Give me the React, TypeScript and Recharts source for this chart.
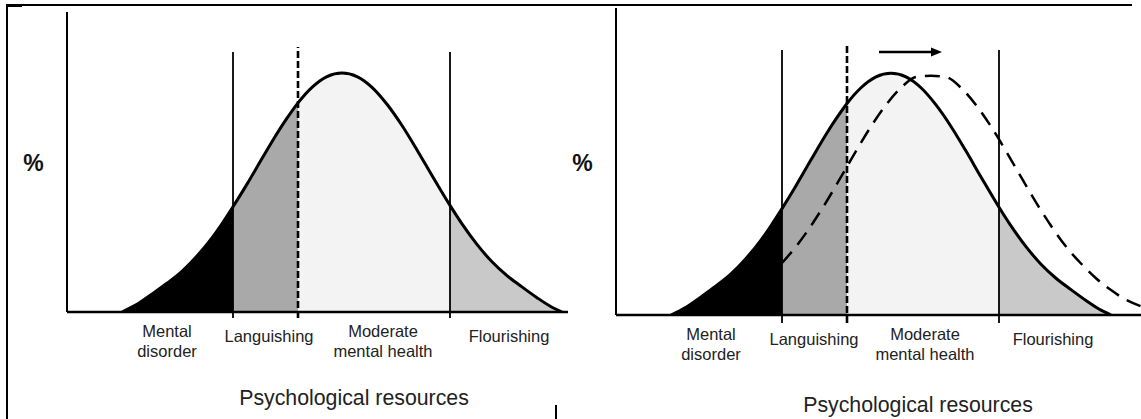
// @ts-nocheck
import { ComposedChart, Area, Line, XAxis, YAxis, ReferenceLine } from 'recharts';

// x in pixels from the y axis (psychological resources), y in % of the peak
const X = [55, 70, 85, 100, 115, 130, 145, 155, 166, 180, 195, 210, 220, 231, 245, 260, 275, 290, 305, 320, 335, 350, 365, 383, 395, 410, 425, 440, 455, 470, 485, 495];
const SOLID = [0, 3.2, 7.5, 12, 17, 23.4, 31, 36.9, 44, 53.5, 64.2, 74.7, 81.1, 87.5, 94, 98.5, 100, 98.5, 94, 86.9, 78, 67.8, 57.1, 44.6, 36.9, 28.3, 21, 15.2, 10.5, 6, 2, 0];

// shifted distribution (right panel, dashed)
const X_SHIFT = [166, 180, 195, 210, 225, 240, 255, 270, 285, 300, 315, 330, 345, 360, 375, 390, 405, 420, 435, 450, 465, 480, 495, 510, 525];
const SHIFTED = [21.5, 28.3, 36.9, 46.6, 57.1, 67.8, 78, 86.9, 94, 98.5, 99, 98.4, 94, 86.9, 78, 67.8, 57.1, 46.6, 36.9, 28.3, 21.3, 15.2, 10.3, 6.3, 3.6];

// cut points: languishing | threshold (dashed) | flourishing
const CUTS = [166, 231, 383];
const REGION_LABELS = ['Mental\ndisorder', 'Languishing', 'Moderate\nmental health', 'Flourishing'];
const AXIS_TITLE = 'Psychological resources';

const FILLS = ['#000000', '#a9a9a9', '#f3f3f3', '#c9c9c9'];
const FONT = '"Liberation Sans", Arial, Helvetica, sans-serif';

const [c1, c2, c3] = CUTS;
const rows = X.map((x, i) => ({
  x,
  y: SOLID[i],
  s1: x <= c1 ? SOLID[i] : null,
  s2: x >= c1 && x <= c2 ? SOLID[i] : null,
  s3: x >= c2 && x <= c3 ? SOLID[i] : null,
  s4: x >= c3 ? SOLID[i] : null,
}));
const shiftedRows = X_SHIFT.map((x, i) => ({ x, v: SHIFTED[i] }));

function RegionTick({ x, y, payload, at }) {
  const idx = at.indexOf(payload.value);
  const lines = (REGION_LABELS[idx] || '').split('\n');
  const offs = lines.length > 1 ? [19, 39] : [24];
  return (
    <g>
      {lines.map((t, i) => (
        <text key={i} x={x} y={y + offs[i]} textAnchor="middle" dominantBaseline="central"
          fontFamily={FONT} fontSize={16.5} fill="#222">{t}</text>
      ))}
    </g>
  );
}

function Arrow(p) {
  const { x1, y1, x2, y2 } = p;
  return (
    <g>
      <line x1={x1} y1={y1} x2={x2 - 8} y2={y2} stroke="#000" strokeWidth={2.5} />
      <polygon points={`${x2},${y2} ${x2 - 11},${y2 - 4.5} ${x2 - 11},${y2 + 4.5}`} fill="#000" />
    </g>
  );
}

function Panel({ left, width, margin, xMax, yMax, labelAt, titleX, titleDy, pctDy, lineTop, dashTop, lineBottom, shifted }) {
  return (
    <div style={{ position: 'absolute', left, top: 0 }}>
      <ComposedChart width={width} height={419} data={rows} margin={margin}>
        <XAxis
          type="number"
          dataKey="x"
          domain={[0, xMax]}
          allowDataOverflow
          ticks={labelAt}
          interval={0}
          tickSize={0}
          tickMargin={0}
          tickLine={false}
          height={100}
          axisLine={{ stroke: '#000', strokeWidth: 2.5 }}
          tick={(p) => <RegionTick {...p} at={labelAt} />}
          label={{
            content: (p) => (
              <text x={p.viewBox.x + titleX} y={p.viewBox.y + titleDy} textAnchor="middle" dominantBaseline="central"
                fontFamily={FONT} fontSize={21.3} fill="#222">{AXIS_TITLE}</text>
            ),
          }}
        />
        <YAxis
          type="number"
          domain={[0, yMax]}
          allowDataOverflow
          width={1}
          tick={false}
          tickLine={false}
          axisLine={{ stroke: '#000', strokeWidth: 2 }}
          label={{
            content: (p) => (
              <text x={p.viewBox.x - 32.5} y={p.viewBox.y + pctDy} textAnchor="middle" dominantBaseline="central"
                fontFamily={FONT} fontSize={23} fontWeight="bold" fill="#111">%</text>
            ),
          }}
        />
        {['s1', 's2', 's3', 's4'].map((k, i) => (
          <Area key={k} dataKey={k} type="monotone" fill={FILLS[i]} fillOpacity={1} stroke="none"
            connectNulls={false} isAnimationActive={false} />
        ))}
        <ReferenceLine ifOverflow="visible" stroke="#000" strokeWidth={1.8}
          segment={[{ x: c1, y: lineBottom }, { x: c1, y: lineTop }]} />
        <ReferenceLine ifOverflow="visible" stroke="#000" strokeWidth={2.6} strokeDasharray="7 3"
          segment={[{ x: c2, y: lineBottom }, { x: c2, y: dashTop }]} />
        <ReferenceLine ifOverflow="visible" stroke="#000" strokeWidth={1.8}
          segment={[{ x: c3, y: lineBottom }, { x: c3, y: lineTop }]} />
        <Line dataKey="y" type="monotone" stroke="#000" strokeWidth={3} dot={false} isAnimationActive={false} />
        {shifted && (
          <Line data={shiftedRows} dataKey="v" type="monotone" stroke="#000" strokeWidth={2.5}
            strokeDasharray="15 9" dot={false} isAnimationActive={false} />
        )}
        {shifted && (
          <ReferenceLine ifOverflow="visible" shape={Arrow}
            segment={[{ x: 263, y: 108.8 }, { x: 326, y: 108.8 }]} />
        )}
      </ComposedChart>
    </div>
  );
}

export default function App() {
  return (
    <div style={{ position: 'absolute', left: 0, top: 0, width: 1141, height: 419, background: '#fff', overflow: 'hidden' }}>
      {/* frame bits */}
      <div style={{ position: 'absolute', left: 7, top: 4, width: 1125, height: 2, background: '#000' }} />
      <div style={{ position: 'absolute', left: 7, top: 4, width: 15, height: 3, background: '#000' }} />
      <div style={{ position: 'absolute', left: 6, top: 4, width: 2, height: 415, background: '#000' }} />
      <div style={{ position: 'absolute', left: 555, top: 405, width: 2, height: 14, background: '#000' }} />

      <Panel
        left={0}
        width={580}
        margin={{ top: 12, right: 12, bottom: 7, left: 66 }}
        xMax={501}
        yMax={125.5}
        labelAt={[100, 202, 316, 442]}
        titleX={287}
        titleDy={86}
        pctDy={151}
        lineTop={108.8}
        dashTop={110.9}
        lineBottom={-2.5}
        shifted={false}
      />
      <Panel
        left={570}
        width={571}
        margin={{ top: 8, right: 0, bottom: 4, left: 45 }}
        xMax={525}
        yMax={127}
        labelAt={[95, 198, 309, 437]}
        titleX={302}
        titleDy={90}
        pctDy={155}
        lineTop={109.6}
        dashTop={111.7}
        lineBottom={-3.3}
        shifted
      />
    </div>
  );
}
